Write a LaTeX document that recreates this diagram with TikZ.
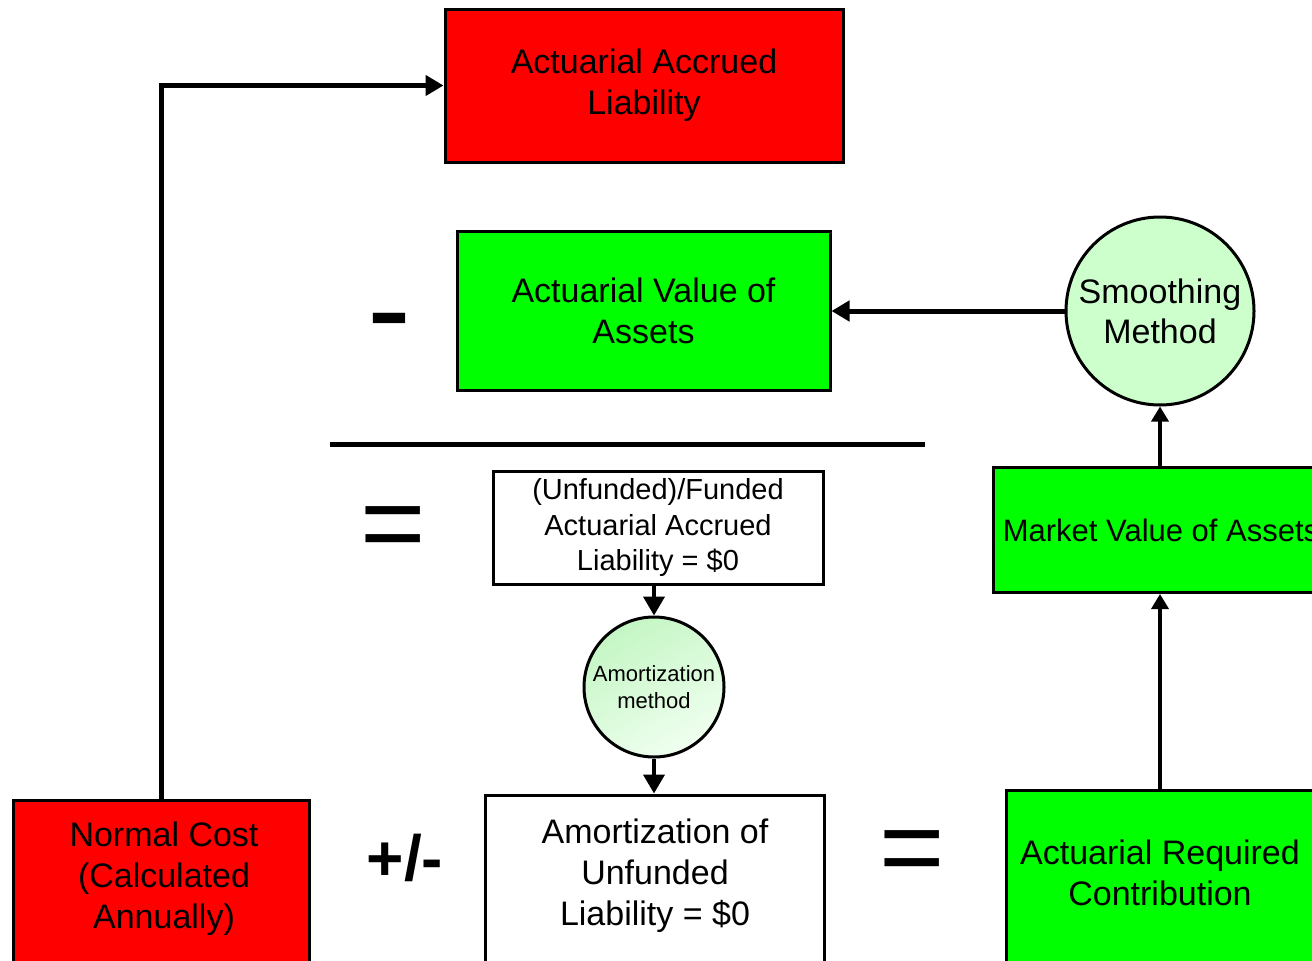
\documentclass[tikz,border=0pt]{standalone}
\usepackage{fontspec}
\setmainfont{Liberation Sans}
\usetikzlibrary{arrows.meta}
\definecolor{boxred}{RGB}{255,0,0}
\definecolor{boxgreen}{RGB}{0,255,0}
\definecolor{palegreen}{RGB}{204,255,204}
\definecolor{gradtop}{RGB}{196,246,196}
\definecolor{gradbottom}{RGB}{240,255,240}

\begin{document}
\begin{tikzpicture}[x=1pt,y=-1pt,
  box/.style={draw=black, line width=3pt, rectangle, inner sep=0pt, align=center,
    font=\fontsize{34}{41}\selectfont},
  redbox/.style={box, fill=boxred},
  greenbox/.style={box, fill=boxgreen},
  whitebox/.style={box, fill=white},
  boxtext/.style={inner sep=0pt, align=center, font=\fontsize{34}{41}\selectfont},
  disc/.style={draw=black, line width=3pt, circle, inner sep=0pt, align=center},
  conn/.style={line width=5pt, -{Triangle[length=18pt,width=20pt]}},
  thinconn/.style={line width=4pt, -{Triangle[length=19pt,width=21pt]}},
  upconn/.style={line width=3.5pt, -{Triangle[length=15pt,width=17pt]}},
  sign/.style={inner sep=0pt}
]
\useasboundingbox (0,0) rectangle (1312,961);
\clip (0,0) rectangle (1312,961);

% liability and asset boxes
\node[redbox, minimum width=398pt, minimum height=153pt] (aal) at (644,85.5)
  {Actuarial Accrued\\Liability};
\node[greenbox, minimum width=373pt, minimum height=159pt] (ava) at (643.5,310.5)
  {Actuarial Value of\\Assets};

% smoothing of market assets
\node[disc, fill=palegreen, minimum size=188pt, font=\fontsize{34}{40}\selectfont] (smooth)
  at (1160,311) {Smoothing\\Method};
\node[greenbox, minimum width=336pt, minimum height=125pt,
  font=\fontsize{31}{36}\selectfont] (mva) at (1161,530) {Market Value of Assets};
\node[greenbox, minimum width=310pt, minimum height=176pt] (arc) at (1161,878) {};
\node[boxtext] (arctext) at (1160,873) {Actuarial Required\\Contribution};

% unfunded liability and its amortization
\node[whitebox, minimum width=330pt, minimum height=113pt,
  font=\fontsize{29}{35.5}\selectfont] (unf) at (658,527.5)
  {(Unfunded)/Funded\\Actuarial Accrued\\Liability = \$0};
\node[disc, top color=gradtop, bottom color=gradbottom, shading angle=30,
  minimum size=140pt, font=\fontsize{22}{27}\selectfont] (amc) at (654,687)
  {Amortization\\method};
\node[whitebox, minimum width=339pt, minimum height=170pt] (amb) at (654.5,880) {};
\node[boxtext] (ambtext) at (655,876) {Amortization of\\Unfunded\\Liability = \$0};

% normal cost
\node[redbox, minimum width=296pt, minimum height=165pt] (nc) at (161,882.5) {};
\node[boxtext] (nctext) at (164,879) {Normal Cost\\(Calculated\\Annually)};

% operators of the equation
\node[sign, font=\fontsize{132}{132}\selectfont] (minus) at (389,333) {-};
\coordinate (ruleL) at (330,444);
\coordinate (ruleR) at (925,444);
\draw[line width=5pt] (ruleL) -- (ruleR);
\node[sign, font=\fontsize{112}{112}\selectfont] (eqA) at (393,534) {=};
\node[sign, font=\bfseries\fontsize{64}{64}\selectfont] (pm) at (405,858) {+/-};
\node[sign, font=\fontsize{112}{112}\selectfont] (eqB) at (912,858) {=};

% connectors
\draw[conn] (nc.north) |- (aal.west);
\draw[conn] (smooth.west) -- (smooth.west -| ava.east);
\draw[upconn] (mva.north -| smooth.south) -- (smooth.south);
\draw[upconn] (arc.north -| smooth.south) -- (mva.south -| smooth.south);
\draw[thinconn] (unf.south -| amc.north) -- (amc.north);
\draw[thinconn] (amc.south) -- (amc.south |- amb.north);
\end{tikzpicture}
\end{document}
